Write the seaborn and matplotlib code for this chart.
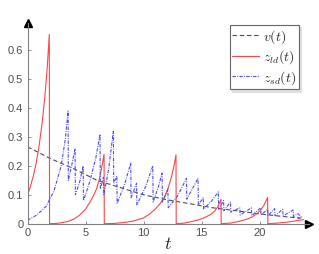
import numpy as np
import pandas as pd
import matplotlib
matplotlib.use("Agg")
import matplotlib.pyplot as plt
import seaborn as sns

# v(t): slowly decaying dashed curve
v_t = [0, 2, 4, 6, 8, 10, 12, 14, 16, 18, 20, 22, 23.6]
v_val = [0.266, 0.225, 0.19, 0.15, 0.125, 0.10, 0.083, 0.069, 0.055, 0.045, 0.034, 0.025, 0.019]

# z_ld(t): red spikes (grow, then drop to zero)
zld_t = [0, 0.25, 0.5, 0.75, 1.0, 1.25, 1.5, 1.7, 1.88, 1.9,
         2.5, 3.0, 3.5, 4.0, 4.5, 5.0, 5.4, 5.7, 5.95, 6.2, 6.4, 6.6, 6.62,
         7.5, 8.5, 9.2, 10.0, 10.5, 11.0, 11.4, 11.8, 12.1, 12.4, 12.6, 12.8, 12.82,
         13.5, 14.2, 14.8, 15.3, 15.8, 16.1, 16.4, 16.68, 16.7,
         17.5, 18.2, 18.8, 19.3, 19.8, 20.1, 20.4, 20.7, 20.72,
         21.5, 22.3, 23.0, 23.8]
zld_val = [0.10, 0.128, 0.165, 0.21, 0.27, 0.345, 0.44, 0.54, 0.655, 0.0,
           0.001, 0.004, 0.008, 0.016, 0.03, 0.05, 0.076, 0.098, 0.12, 0.155, 0.195, 0.24, 0.0,
           0.001, 0.005, 0.01, 0.02, 0.033, 0.05, 0.068, 0.09, 0.12, 0.16, 0.195, 0.238, 0.0,
           0.002, 0.008, 0.014, 0.022, 0.032, 0.042, 0.058, 0.084, 0.0,
           0.002, 0.008, 0.014, 0.022, 0.035, 0.047, 0.065, 0.091, 0.0,
           0.002, 0.005, 0.009, 0.014]

# z_sd(t): blue sawtooth
zsd_t = [0.0, 0.8, 1.6, 2.3, 2.9, 3.25, 3.5, 3.52, 3.8, 4.1, 4.13, 4.5, 4.8, 4.83,
         5.4, 5.9, 6.25, 6.28, 6.55, 6.58, 7.0, 7.4, 7.43, 7.7, 7.73, 8.4, 8.9, 8.93,
         9.4, 9.43, 10.2, 10.8, 10.83, 11.3, 11.6, 11.63, 12.1, 12.13, 13.0, 13.7, 13.73,
         14.2, 14.7, 14.73, 15.15, 15.18, 15.9, 16.45, 16.48, 16.9, 16.93, 17.5, 17.53,
         18.3, 18.33, 19.3, 19.33, 20.1, 20.13, 20.7, 20.73, 21.3, 21.33, 22.0, 22.03,
         22.9, 22.93, 23.3, 23.6, 23.4, 23.2]
zsd_val = [0.012, 0.03, 0.06, 0.115, 0.2, 0.29, 0.39, 0.15, 0.2, 0.26, 0.10, 0.145, 0.20, 0.08,
           0.15, 0.23, 0.31, 0.12, 0.16, 0.10, 0.19, 0.32, 0.14, 0.165, 0.07, 0.14, 0.21, 0.09,
           0.14, 0.065, 0.13, 0.20, 0.075, 0.13, 0.175, 0.075, 0.12, 0.055, 0.10, 0.157, 0.085,
           0.12, 0.157, 0.065, 0.09, 0.05, 0.08, 0.11, 0.05, 0.08, 0.045, 0.075, 0.04,
           0.055, 0.03, 0.055, 0.028, 0.055, 0.03, 0.05, 0.028, 0.052, 0.027, 0.05, 0.027,
           0.047, 0.025, 0.035, 0.024, 0.018, 0.024]

sns.set_style("ticks")
plt.rcParams["mathtext.fontset"] = "cm"
plt.rcParams["font.family"] = ["Liberation Sans", "DejaVu Sans"]

fig = plt.figure(figsize=(3.19, 2.54), dpi=100)
ax = fig.add_axes([27.5 / 319, 30.3 / 254, 24.3 * 11.6 / 319, 0.695 * 289 / 254])

df_v = pd.DataFrame({"t": v_t, "val": v_val})
df_ld = pd.DataFrame({"t": zld_t, "val": zld_val})
df_sd = pd.DataFrame({"t": zsd_t, "val": zsd_val})

sns.lineplot(data=df_v, x="t", y="val", ax=ax, color="0.3", linestyle=(0, (4, 2.5)),
             linewidth=0.8, estimator=None, sort=False, label="$v(t)$")
sns.lineplot(data=df_ld, x="t", y="val", ax=ax, color="#ff4444", linestyle="-",
             linewidth=0.8, estimator=None, sort=False, label="$z_{ld}(t)$")
sns.lineplot(data=df_sd, x="t", y="val", ax=ax, color="#4a4aff", linestyle=(0, (3, 1.2, 0.8, 1.2)),
             linewidth=0.8, estimator=None, sort=False, label="$z_{sd}(t)$")

ax.set_xlim(0, 24.3)
ax.set_ylim(0, 0.695)
ax.set_xticks([0, 5, 10, 15, 20])
ax.set_yticks([0, 0.1, 0.2, 0.3, 0.4, 0.5, 0.6])
ax.set_yticklabels(["0", "0.1", "0.2", "0.3", "0.4", "0.5", "0.6"])
ax.tick_params(direction="in", length=2.5, width=0.6, colors="0.5", labelcolor="0.3",
               labelsize=8, pad=3)
sns.despine(ax=ax)
for s in ["left", "bottom"]:
    ax.spines[s].set_color("0.5")
    ax.spines[s].set_linewidth(0.8)

# arrow heads at the axis ends
ax.plot(1, 0, marker=">", ms=6, color="k", transform=ax.transAxes, clip_on=False)
ax.plot(0, 1, marker="^", ms=6, color="k", transform=ax.transAxes, clip_on=False)

ax.set_xlabel("$t$", fontsize=13, labelpad=-1)
ax.set_ylabel("")

leg = ax.legend(loc="upper right", bbox_to_anchor=(299 / 319, 1 - 25 / 254),
                bbox_transform=fig.transFigure, borderaxespad=0, fancybox=False,
                shadow={"color": "0.88", "alpha": 1, "ox": 1.5, "oy": -1.5}, fontsize=10,
                handlelength=1.9, handletextpad=0.3, labelspacing=0.2, borderpad=0.2,
                framealpha=1)
leg.get_frame().set_edgecolor("0.4")
leg.get_frame().set_linewidth(0.8)

fig.savefig("out.png", dpi=100)
